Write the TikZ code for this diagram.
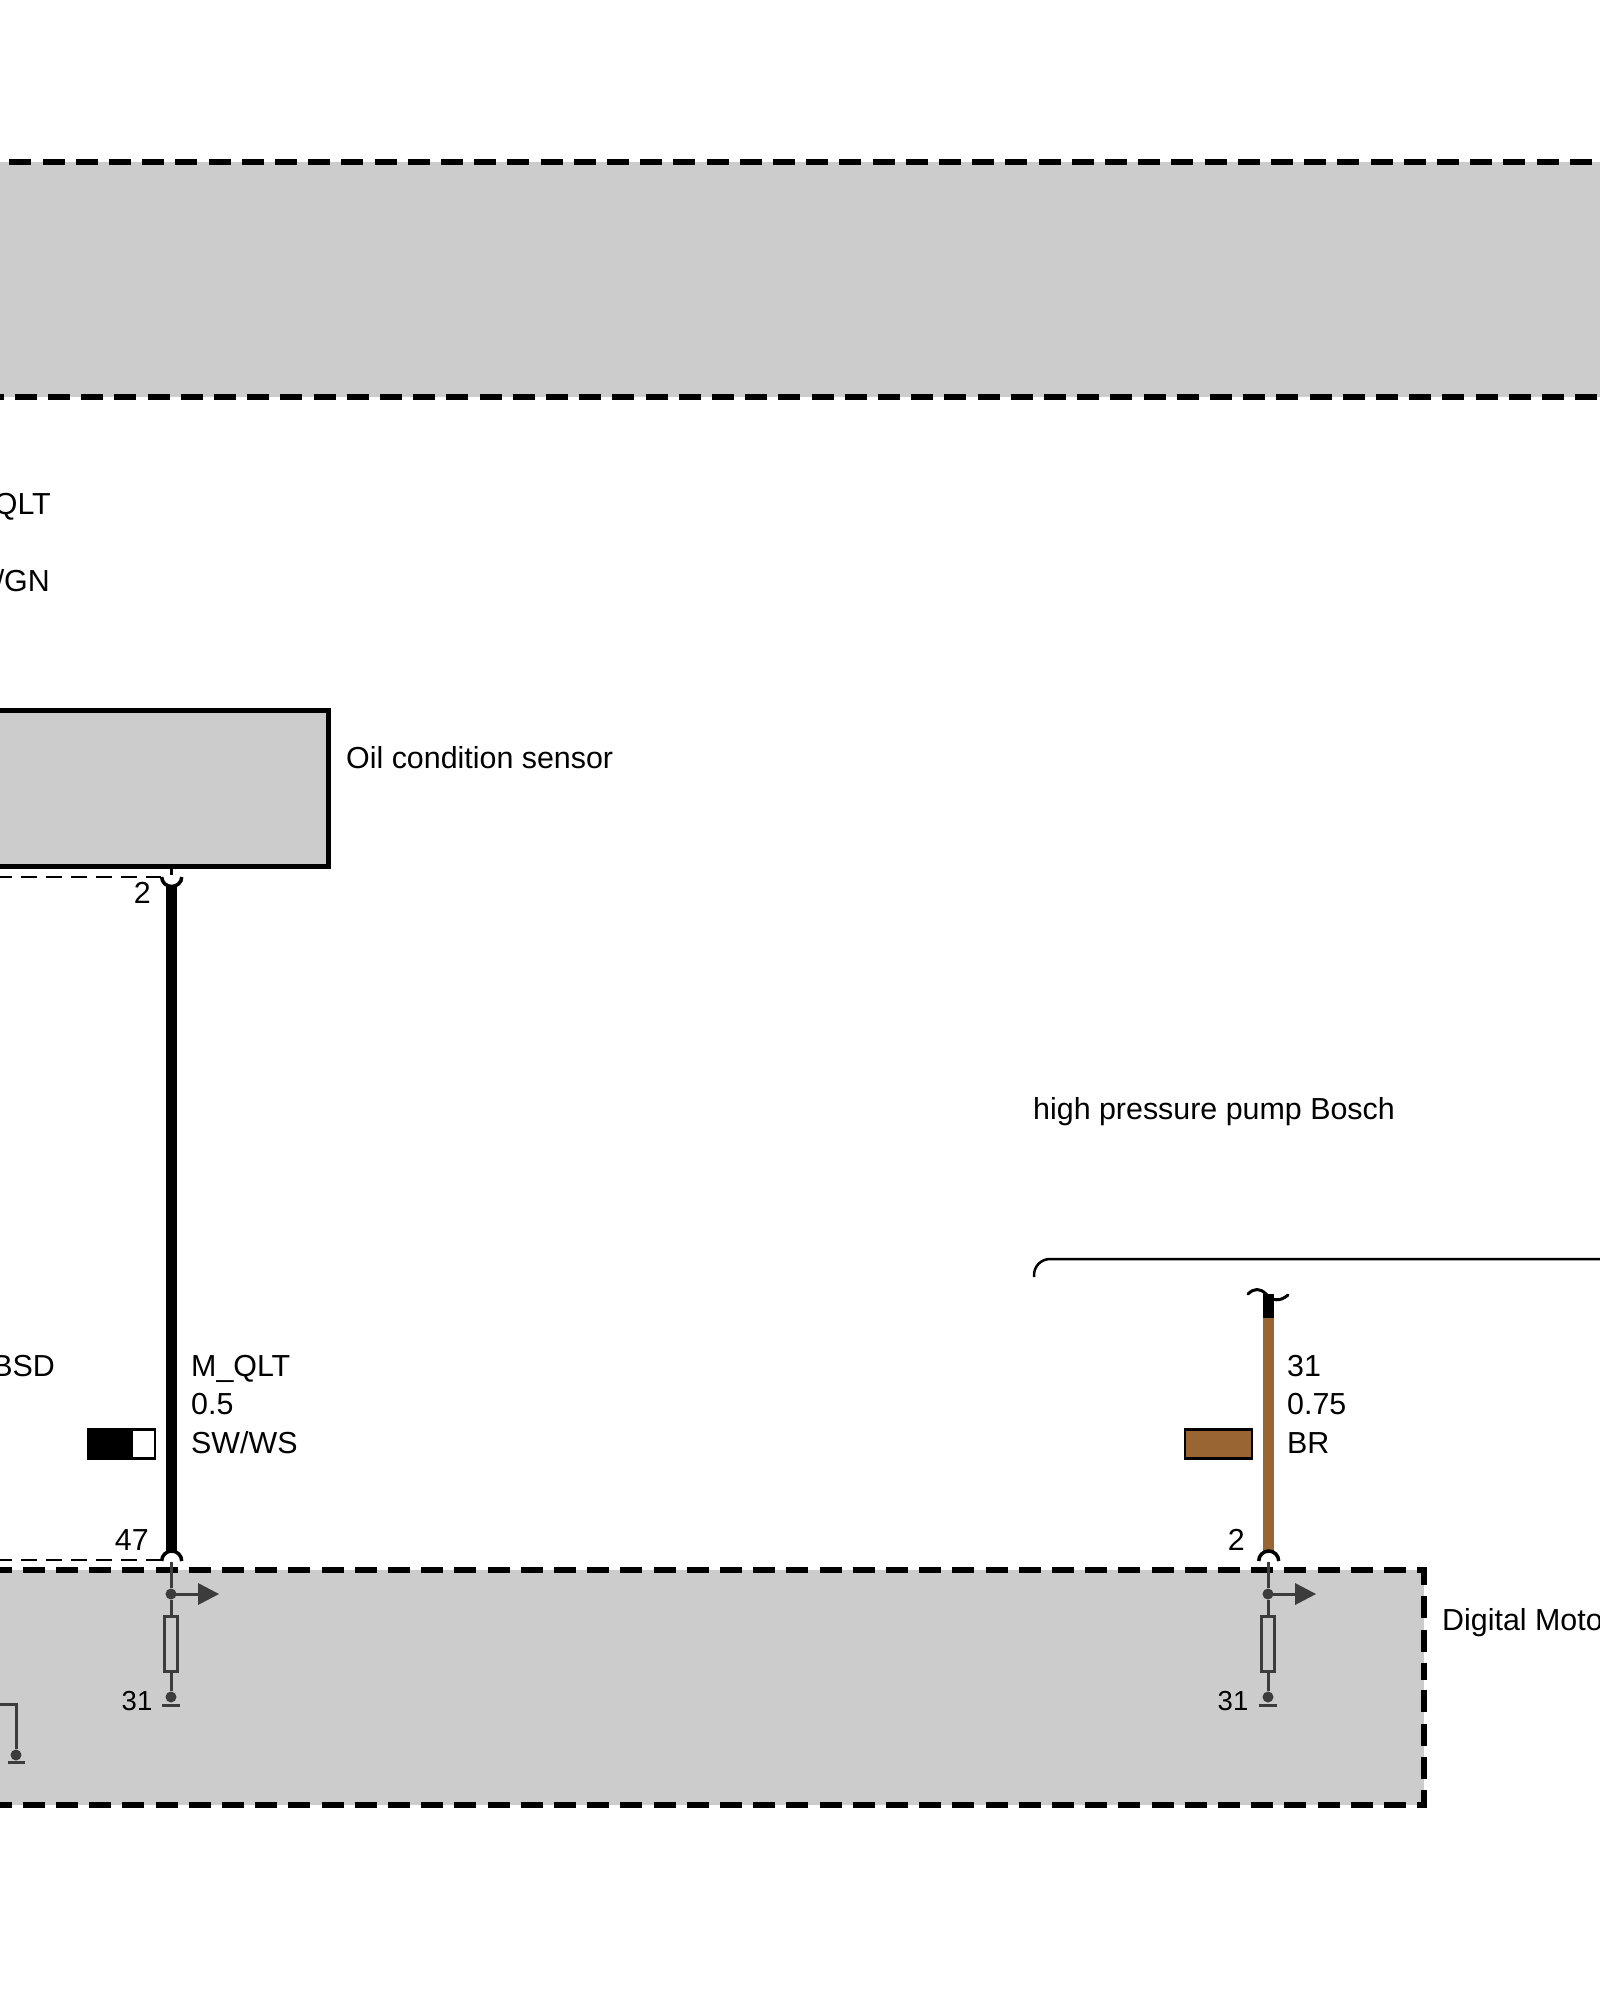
\documentclass[tikz,border=0pt]{standalone}
\usepackage{fontspec}
\setmainfont{Liberation Sans}
\definecolor{panelgray}{HTML}{CCCCCC}
\definecolor{wirebrown}{HTML}{996633}
\definecolor{innergray}{HTML}{3C3C3C}
\tikzset{
  lbl/.style={inner sep=0pt,font=\fontsize{30.4}{30.4}\selectfont},
  panel/.style={line width=5.5pt,dash pattern=on 22pt off 11.2pt},
  thindash/.style={line width=2.5pt,dash pattern=on 16pt off 9pt},
  wire/.style={line width=11pt},
  pin/.style={line width=3.5pt},
  inner/.style={line width=3pt,innergray},
  tip/.style={circle,fill=innergray,inner sep=0pt,minimum size=11pt},
  res/.style={draw=innergray,line width=3pt,fill=panelgray,minimum width=13pt,minimum height=55pt,inner sep=0pt},
  legend/.style={draw=black,line width=2.5pt,minimum height=29pt,inner sep=0pt},
}
\begin{document}
\begin{tikzpicture}[x=1pt,y=-1pt]
\useasboundingbox (0,0) rectangle (1600,2000);
\clip (0,0) rectangle (1600,2000);
% top band
\fill[panelgray] (-30,162) rectangle (1620,397);
\draw[panel] (-23.9,162) -- (1620,162);
\draw[panel] (-18.5,397) -- (1620,397);
% sensor
\node[draw=black,line width=5pt,fill=panelgray,minimum width=369pt,minimum height=156pt,inner sep=0pt] (sensor) at (144,788) {};
\node[lbl,anchor=base west] (sensorlbl) at (346,768) {Oil condition sensor};
\node[lbl,anchor=base east] (qlt) at (51,514) {QLT};
\node[lbl,anchor=base east] (gn) at (50,591) {/GN};
% control unit
\fill[panelgray] (-20,1570) rectangle (1424,1805);
\draw[panel] (-10.5,1570) -- (1424,1570) -- (1424,1680);
\draw[panel] (-10.5,1805) -- (1424,1805) -- (1424,1680);
\node[lbl,anchor=base west] (dmelbl) at (1442,1630) {Digital Moto};
% pin coordinates
\coordinate (p1top) at (171.7,877);
\coordinate (p1bot) at (171.7,1551);
\coordinate (p2top) at (1268.7,1318);
\coordinate (p2bot) at (1268.7,1551);
\coordinate (tildel) at (1248,1294);
\coordinate (tilder) at (1288,1295);
% sensor to unit wire
\draw[wire] (171.7,886) -- (p1bot);
\draw[pin] (161.7,877) arc (180:0:10 and 9.5);
\draw[pin] (161.7,1561) arc (180:360:10);
\draw[thindash] (sensor.south -| p1top) -- (171.7,875);
\draw[thindash] (-4,877) -- (161,877);
\draw[thindash] (-4,1560) -- (161,1560);
\node[lbl,anchor=base east] (pin2a) at (151,903) {2};
\node[lbl,anchor=base east] (pin47) at (149,1550) {47};
\node[lbl,anchor=base west] (mqlt) at (191,1376) {M\_QLT};
\node[lbl,anchor=base west] (mqltb) at (191,1414) {0.5};
\node[lbl,anchor=base west] (mqltc) at (191,1453) {SW/WS};
\node[lbl,anchor=base east] (bsd) at (55,1376) {BSD};
% legend black white
\node[legend,fill=white,minimum width=67pt] (leg1) at (121.5,1444) {};
\fill[black] (leg1.north west) rectangle (133,1459);
% brown wire
\draw[wire,wirebrown] (p2top) -- (p2bot);
\draw[wire] (1268.7,1294) -- (p2top);
\draw[line width=3pt,line cap=round] (tildel) .. controls (1254,1288) and (1260,1288) .. (1266,1294) .. controls (1272,1301) and (1280,1302) .. (tilder);
\draw[pin] (1258.7,1561) arc (180:360:10);
\node[legend,fill=wirebrown,minimum width=67pt] (leg2) at (1218.5,1444) {};
\node[lbl,anchor=base east] (pin2b) at (1245,1550) {2};
\node[lbl,anchor=base west] (w31) at (1287,1376) {31};
\node[lbl,anchor=base west] (w075) at (1287,1414) {0.75};
\node[lbl,anchor=base west] (wbr) at (1287,1453) {BR};
% brace
\node[lbl,anchor=base west] (pumplbl) at (1033,1119) {high pressure pump Bosch};
\draw[line width=2.5pt,rounded corners=16pt] (1034,1277) -- (1034,1259) -- (1620,1259);
% inner circuits
\foreach \x/\n/\lx in {171/a/152.5,1268/b/1248.5}{
  \node[tip] (d\n) at (\x,1594) {};
  \node[tip] (g\n) at (\x,1697) {};
  \node[res] (r\n) at (\x,1643.5) {};
  \coordinate (t\n) at (\x,1562);
  \draw[inner] (t\n) -- (d\n);
  \draw[inner] (d\n) -- (r\n);
  \draw[inner] (r\n) -- (g\n);
  \draw[inner] (\x-9,1705) -- (\x+9,1705);
  \draw[inner] (d\n.center) -- (\x+28,1594);
  \fill[innergray] (\x+27,1583) -- (\x+48,1594) -- (\x+27,1605) -- cycle;
  \node[lbl,font=\fontsize{27.5}{27.5}\selectfont,anchor=base east] (l\n) at (\lx,1710) {31};
}
% cut off ground
\node[tip] (g0) at (16,1755) {};
\draw[inner] (-10,1704) -- (16,1704) -- (g0);
\draw[inner] (8,1762) -- (25,1762);
\end{tikzpicture}
\end{document}
